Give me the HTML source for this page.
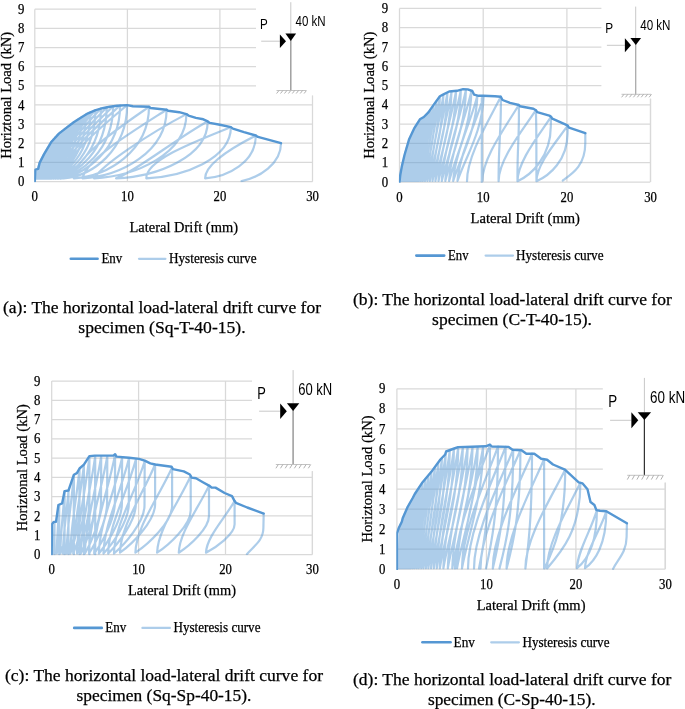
<!DOCTYPE html>
<html><head><meta charset="utf-8"><title>Horizontal load-lateral drift curves</title>
<style>
html,body{margin:0;padding:0;background:#fff;overflow:hidden;}
svg{display:block;}
text{fill:#000;stroke:#000;stroke-width:0.25px;}
.ns{stroke:none;}
</style></head><body>
<svg width="685" height="709" viewBox="0 0 685 709">
<rect width="685" height="709" fill="#fff"/>
<path d="M34.8,181.5 H312.5 M34.8,162.3 H312.5 M34.8,143.2 H312.5 M34.8,124.1 H312.5 M34.8,104.9 H312.5 M34.8,85.8 H312.5 M34.8,66.6 H312.5 M34.8,47.5 H312.5 M34.8,28.3 H312.5 M34.8,9.2 H312.5 M34.8,9.2 V181.5 M127.4,9.2 V181.5 M219.9,9.2 V181.5 M312.5,9.2 V181.5" stroke="#D9D9D9" stroke-width="1.25" fill="none"/>
<text x="21.1" y="186.1" font-family='"Liberation Serif", serif' font-size="13.7" text-anchor="middle" textLength="6.4" lengthAdjust="spacingAndGlyphs">0</text>
<text x="21.1" y="166.9" font-family='"Liberation Serif", serif' font-size="13.7" text-anchor="middle" textLength="6.4" lengthAdjust="spacingAndGlyphs">1</text>
<text x="21.1" y="147.8" font-family='"Liberation Serif", serif' font-size="13.7" text-anchor="middle" textLength="6.4" lengthAdjust="spacingAndGlyphs">2</text>
<text x="21.1" y="128.7" font-family='"Liberation Serif", serif' font-size="13.7" text-anchor="middle" textLength="6.4" lengthAdjust="spacingAndGlyphs">3</text>
<text x="21.1" y="109.5" font-family='"Liberation Serif", serif' font-size="13.7" text-anchor="middle" textLength="6.4" lengthAdjust="spacingAndGlyphs">4</text>
<text x="21.1" y="90.3" font-family='"Liberation Serif", serif' font-size="13.7" text-anchor="middle" textLength="6.4" lengthAdjust="spacingAndGlyphs">5</text>
<text x="21.1" y="71.2" font-family='"Liberation Serif", serif' font-size="13.7" text-anchor="middle" textLength="6.4" lengthAdjust="spacingAndGlyphs">6</text>
<text x="21.1" y="52.1" font-family='"Liberation Serif", serif' font-size="13.7" text-anchor="middle" textLength="6.4" lengthAdjust="spacingAndGlyphs">7</text>
<text x="21.1" y="32.9" font-family='"Liberation Serif", serif' font-size="13.7" text-anchor="middle" textLength="6.4" lengthAdjust="spacingAndGlyphs">8</text>
<text x="21.1" y="13.8" font-family='"Liberation Serif", serif' font-size="13.7" text-anchor="middle" textLength="6.4" lengthAdjust="spacingAndGlyphs">9</text>
<text x="34.8" y="201" font-family='"Liberation Serif", serif' font-size="13.7" text-anchor="middle" textLength="6.4" lengthAdjust="spacingAndGlyphs">0</text>
<text x="127.4" y="201" font-family='"Liberation Serif", serif' font-size="13.7" text-anchor="middle" textLength="12.7" lengthAdjust="spacingAndGlyphs">10</text>
<text x="219.9" y="201" font-family='"Liberation Serif", serif' font-size="13.7" text-anchor="middle" textLength="12.7" lengthAdjust="spacingAndGlyphs">20</text>
<text x="312.5" y="201" font-family='"Liberation Serif", serif' font-size="13.7" text-anchor="middle" textLength="12.7" lengthAdjust="spacingAndGlyphs">30</text>
<text transform="translate(10.7,95.3) rotate(-90)" font-family='"Liberation Serif", serif' font-size="15.1" text-anchor="middle" textLength="127" lengthAdjust="spacingAndGlyphs">Horiztonal Load (kN)</text>
<text x="129.5" y="232" font-family='"Liberation Serif", serif' font-size="15.3" text-anchor="start" textLength="108.5" lengthAdjust="spacingAndGlyphs">Lateral Drift (mm)</text>
<path d="M70.8,258.8 H97.6" stroke="#5597D3" stroke-width="2.6" stroke-linecap="round"/>
<path d="M139,258.8 H165.4" stroke="#5B9BD5" stroke-opacity="0.5" stroke-width="2.2" stroke-linecap="round"/>
<text x="101.4" y="263.2" font-family='"Liberation Serif", serif' font-size="14.3" text-anchor="start" textLength="20.9" lengthAdjust="spacingAndGlyphs">Env</text>
<text x="169" y="263.2" font-family='"Liberation Serif", serif' font-size="14.3" text-anchor="start" textLength="87.5" lengthAdjust="spacingAndGlyphs">Hysteresis curve</text>
<text x="3" y="313.1" font-family='"Liberation Serif", serif' font-size="17.3" text-anchor="start" textLength="318" lengthAdjust="spacingAndGlyphs">(a): The horizontal load-lateral drift curve for</text>
<text x="78.3" y="332.7" font-family='"Liberation Serif", serif' font-size="17.3" text-anchor="start" textLength="167.3" lengthAdjust="spacingAndGlyphs">specimen (Sq-T-40-15).</text>
<clipPath id="clipa"><rect x="34.2" y="9.2" width="278.7" height="173"/></clipPath>
<path clip-path="url(#clipa)" d="M38,168.9 C38,175 36.5,178.1 35.5,178.7  C35.6,175.8 36.9,172.1 38,168.9 M38.6,167.3 C38.6,174.4 36.8,178 35.6,178.7  C35.7,175.3 37.3,171.1 38.6,167.3 M39.2,164.7 C39.2,173.4 37.1,177.9 35.8,178.7  C35.9,174.5 37.7,169.3 39.2,164.7 M39.8,162.5 C39.8,172.5 37.5,177.7 35.9,178.7  C36,173.8 38.1,167.8 39.8,162.5 M40.6,161.1 C40.6,172 37.9,177.6 36.1,178.7  C36.2,173.4 38.5,166.9 40.6,161.1 M41.3,159.5 C41.3,171.4 38.3,177.6 36.3,178.7  C36.4,173 39,165.9 41.3,159.5 M42.1,157.9 C42.1,170.8 38.7,177.5 36.5,178.7  C36.6,172.5 39.6,164.8 42.1,157.9 M43.1,156.1 C43.1,170.1 39.2,177.3 36.7,178.7  C36.8,171.9 40.2,163.6 43.1,156.1 M44,154.2 C44,169.4 39.8,177.2 36.9,178.7  C37.1,171.3 40.8,162.3 44,154.2 M45.1,152.4 C45.1,168.7 40.3,177.1 37.2,178.7  C37.3,170.8 41.5,161.1 45.1,152.4 M46.2,150.4 C46.2,168 41,177 37.4,178.7  C37.6,170.2 42.3,159.8 46.2,150.4 M47.5,148.3 C47.5,167.2 41.6,176.9 37.7,178.7  C37.9,169.6 43.1,158.4 47.5,148.3 M48.9,146.1 C48.9,166.3 42.4,176.7 38.1,178.7  C38.3,168.9 44,156.8 48.9,146.1 M50.3,143.6 C50.3,165.4 43.2,176.6 38.4,178.7  C38.7,168.2 45,155.2 50.3,143.6 M51.9,141.2 C51.9,164.4 44.1,176.4 38.9,178.7  C39.1,167.4 46,153.6 51.9,141.2 M53.7,139.3 C53.7,163.7 45,176.3 39.3,178.7  C39.6,166.9 47.2,152.3 53.7,139.3 M55.5,137.2 C55.5,162.9 46.1,176.2 39.8,178.7  C40.1,166.3 48.4,150.9 55.5,137.2 M57.6,135 C57.6,162.1 47.2,176.1 40.3,178.7  C40.7,165.6 49.8,149.4 57.6,135 M59.8,132.9 C59.8,161.3 48.5,176 40.9,178.7  C41.3,165 51.3,148 59.8,132.9 M62.2,131 C62.2,160.6 49.8,175.8 41.6,178.7  C42,164.4 52.9,146.8 62.2,131 M64.8,129 C64.8,159.8 51.3,175.7 42.3,178.7  C42.7,163.8 54.7,145.4 64.8,129 M67.6,126.9 C67.6,159 52.9,175.6 43.1,178.7  C43.6,163.2 56.6,144 67.6,126.9 M70.7,124.6 C70.7,158.1 54.6,175.5 43.9,178.7  C44.5,162.5 58.7,142.4 70.7,124.6 M74,122.1 C74,157.2 56.6,175.3 44.9,178.7  C45.5,161.7 60.9,140.8 74,122.1 M77.6,119.8 C77.6,156.3 58.7,175.2 46,178.7  C46.6,161 63.4,139.2 77.6,119.8 M81.6,117.3 C81.6,155.4 60.9,175 47.2,178.7  C47.9,160.3 66.1,137.5 81.6,117.3 M85.8,114.7 C85.8,154.4 63.5,174.9 48.5,178.7  C49.3,159.5 69,135.8 85.8,114.7 M90.4,112.3 C90.4,153.5 66.2,174.7 50,178.7  C50.9,158.8 72.2,134.2 90.4,112.3 M95.4,110.1 C95.4,152.6 69.2,174.6 51.7,178.7  C52.6,158.1 75.8,132.8 95.4,110.1 M100.9,108.6 C100.9,152.1 72.5,174.5 53.6,178.7  C54.5,157.7 79.6,131.7 100.9,108.6 M106.7,107.4 C106.7,151.6 76.1,174.4 55.7,178.7  C56.7,157.3 83.8,130.9 106.7,107.4 M113.1,106.3 C113.1,151.2 80.1,174.4 58,178.7  C59.1,157 88.3,130.2 113.1,106.3 M120.1,105.5 C120.1,150.9 84.4,174.3 60.6,178.7  C61.8,156.7 93.3,129.7 120.1,105.5 M127.1,105.1 C127.1,150.5 92.2,176.1 63.6,178.3  C64.9,156.3 98.5,129.3 127.1,105.1 M149,106.8 C149,151.1 107.7,176.2 73.8,178.3  C75.3,156.9 115.2,130.4 149,106.8 M166.6,109.7 C166.6,152.2 120.4,176.2 82.5,178.3  C86.7,159.1 131.3,132.3 166.6,109.7 M186.4,114.1 C186.4,153.9 135.6,176.4 94,178.3  C103.2,164.2 149.5,133.4 186.4,114.1 M207.7,121.4 C207.7,156.7 157.3,176.6 116,178.3  C136.2,171.5 180.2,135.6 207.7,121.4 M230.9,127.1 C230.9,158.8 184.4,176.8 146.3,178.3  C146.3,160.4 188.6,144 230.9,127.1 M255.8,135.5 C255.8,162.1 227.9,177 205.1,178.3  C205.1,164.6 230.4,148.4 255.8,135.5 M281,143.2 C281,164.1 259.3,177.4 241.6,181.2" fill="none" stroke="#5B9BD5" stroke-opacity="0.5" stroke-width="2.2" stroke-linejoin="round" stroke-linecap="round"/>
<path clip-path="url(#clipa)" d="M34.8,181.5 L35.3,169.6 L38.2,168.9 L39.6,162.9 L44.1,154.1 L51.5,141.7 L58.9,133.6 L66.3,127.9 L73.7,122.3 L81.1,117.5 L88,113.3 L95,110.3 L102.4,108.2 L109.8,106.8 L117.2,105.7 L127.1,105.1 L132.9,106.2 L149,106.8 L150.5,108 L166.6,109.7 L168.1,110.8 L179.2,112.2 L186.4,114.1 L188.5,115.6 L195.9,117.9 L203.3,119.3 L207.7,121.4 L209.8,122.9 L219.9,124.8 L230.9,127.1 L232.9,128.6 L244,132.1 L255.8,135.5 L257.9,136.9 L281,143.2" fill="none" stroke="#5597D3" stroke-width="2.4" stroke-linejoin="round" stroke-linecap="round"/>
<rect x="256" y="0" width="434" height="95.6" fill="#fff"/>
<path d="M290.8,2.2 V33.6" stroke="#C8C8C8" stroke-width="1"/>
<path d="M290.8,39.9 V90.5" stroke="#9A9A9A" stroke-width="1.4"/>
<path d="M261.2,41.2 H279.9" stroke="#C8C8C8" stroke-width="1"/>
<path d="M285.4,33.6 h10.7 l-5.3,7.3 z" fill="#000"/>
<path d="M279.9,34.4 v13.6 l6.1,-6.8 z" fill="#000"/>
<path d="M276.5,90.5 H306" stroke="#C4C4C4" stroke-width="1"/>
<path d="M279,90.5 l-2.4,3 M282.9,90.5 l-2.4,3 M286.9,90.5 l-2.4,3 M290.8,90.5 l-2.4,3 M294.7,90.5 l-2.4,3 M298.6,90.5 l-2.4,3 M302.6,90.5 l-2.4,3 M306.5,90.5 l-2.4,3" stroke="#A8A8A8" stroke-width="0.9"/>
<text class="ns" transform="translate(260,28.9) scale(0.82,1)" font-family='"Liberation Sans", sans-serif' font-size="14.2">P</text>
<text class="ns" transform="translate(295.6,26) scale(0.8,1)" font-family='"Liberation Sans", sans-serif' font-size="14.4">40 kN</text>
<path d="M312.5,95.6 V181.5" stroke="#D9D9D9" stroke-width="1"/>
<path d="M399.5,182 H650.3 M399.5,162.7 H650.3 M399.5,143.4 H650.3 M399.5,124.1 H650.3 M399.5,104.8 H650.3 M399.5,85.6 H650.3 M399.5,66.3 H650.3 M399.5,47 H650.3 M399.5,27.7 H650.3 M399.5,8.4 H650.3 M399.5,8.4 V182 M483.2,8.4 V182 M566.9,8.4 V182 M650.6,8.4 V182" stroke="#D9D9D9" stroke-width="1.25" fill="none"/>
<text x="385" y="186.6" font-family='"Liberation Serif", serif' font-size="13.7" text-anchor="middle" textLength="6.4" lengthAdjust="spacingAndGlyphs">0</text>
<text x="385" y="167.3" font-family='"Liberation Serif", serif' font-size="13.7" text-anchor="middle" textLength="6.4" lengthAdjust="spacingAndGlyphs">1</text>
<text x="385" y="148" font-family='"Liberation Serif", serif' font-size="13.7" text-anchor="middle" textLength="6.4" lengthAdjust="spacingAndGlyphs">2</text>
<text x="385" y="128.7" font-family='"Liberation Serif", serif' font-size="13.7" text-anchor="middle" textLength="6.4" lengthAdjust="spacingAndGlyphs">3</text>
<text x="385" y="109.4" font-family='"Liberation Serif", serif' font-size="13.7" text-anchor="middle" textLength="6.4" lengthAdjust="spacingAndGlyphs">4</text>
<text x="385" y="90.2" font-family='"Liberation Serif", serif' font-size="13.7" text-anchor="middle" textLength="6.4" lengthAdjust="spacingAndGlyphs">5</text>
<text x="385" y="70.9" font-family='"Liberation Serif", serif' font-size="13.7" text-anchor="middle" textLength="6.4" lengthAdjust="spacingAndGlyphs">6</text>
<text x="385" y="51.6" font-family='"Liberation Serif", serif' font-size="13.7" text-anchor="middle" textLength="6.4" lengthAdjust="spacingAndGlyphs">7</text>
<text x="385" y="32.3" font-family='"Liberation Serif", serif' font-size="13.7" text-anchor="middle" textLength="6.4" lengthAdjust="spacingAndGlyphs">8</text>
<text x="385" y="13" font-family='"Liberation Serif", serif' font-size="13.7" text-anchor="middle" textLength="6.4" lengthAdjust="spacingAndGlyphs">9</text>
<text x="399.5" y="201.7" font-family='"Liberation Serif", serif' font-size="13.7" text-anchor="middle" textLength="6.4" lengthAdjust="spacingAndGlyphs">0</text>
<text x="483.2" y="201.7" font-family='"Liberation Serif", serif' font-size="13.7" text-anchor="middle" textLength="12.7" lengthAdjust="spacingAndGlyphs">10</text>
<text x="566.9" y="201.7" font-family='"Liberation Serif", serif' font-size="13.7" text-anchor="middle" textLength="12.7" lengthAdjust="spacingAndGlyphs">20</text>
<text x="650.6" y="201.7" font-family='"Liberation Serif", serif' font-size="13.7" text-anchor="middle" textLength="12.7" lengthAdjust="spacingAndGlyphs">30</text>
<text transform="translate(373.7,95.2) rotate(-90)" font-family='"Liberation Serif", serif' font-size="15.1" text-anchor="middle" textLength="127" lengthAdjust="spacingAndGlyphs">Horiztonal Load (kN)</text>
<text x="470.6" y="223.4" font-family='"Liberation Serif", serif' font-size="15.3" text-anchor="start" textLength="109.4" lengthAdjust="spacingAndGlyphs">Lateral Drift (mm)</text>
<path d="M416.3,255.6 H444.2" stroke="#5597D3" stroke-width="2.6" stroke-linecap="round"/>
<path d="M485.6,255.6 H513" stroke="#5B9BD5" stroke-opacity="0.5" stroke-width="2.2" stroke-linecap="round"/>
<text x="448.1" y="260.2" font-family='"Liberation Serif", serif' font-size="14.3" text-anchor="start" textLength="20.5" lengthAdjust="spacingAndGlyphs">Env</text>
<text x="516" y="260.2" font-family='"Liberation Serif", serif' font-size="14.3" text-anchor="start" textLength="87.5" lengthAdjust="spacingAndGlyphs">Hysteresis curve</text>
<text x="353" y="305" font-family='"Liberation Serif", serif' font-size="17.3" text-anchor="start" textLength="318.8" lengthAdjust="spacingAndGlyphs">(b): The horizontal load-lateral drift curve for</text>
<text x="432.1" y="324.9" font-family='"Liberation Serif", serif' font-size="17.3" text-anchor="start" textLength="159.8" lengthAdjust="spacingAndGlyphs">specimen (C-T-40-15).</text>
<clipPath id="clipb"><rect x="398.9" y="8.4" width="251.8" height="174.3"/></clipPath>
<path clip-path="url(#clipb)" d="M402,166.2 C402,172.4 401.5,176.9 401.2,181  C401.3,176.1 401.8,171.1 402,166.2 M403.1,161.5 C403.1,169.7 402.3,175.5 402,181  C402.1,174.6 402.8,167.9 403.1,161.5 M404.3,156.5 C404.2,166.8 403.3,174.1 402.8,181  C402.9,172.9 403.9,164.6 404.3,156.5 M405.5,152.2 C405.4,164.3 404.2,172.9 403.7,181  C403.8,171.5 405,161.7 405.5,152.2 M406.8,147.8 C406.7,161.8 405.2,171.7 404.5,181  C404.7,170.1 406.1,158.8 406.8,147.8 M408.1,143.3 C408,159.1 406.3,170.4 405.5,181  C405.7,168.6 407.3,155.7 408.1,143.3 M409.5,139.1 C409.4,156.7 407.3,169.3 406.4,181  C406.7,167.2 408.6,152.9 409.5,139.1 M411,136 C410.8,154.9 408.5,168.4 407.4,181  C407.7,166.1 409.9,150.8 411,136 M412.5,132.7 C412.3,153 409.7,167.5 408.5,181  C408.8,165.1 411.3,148.6 412.5,132.7 M414.1,129.2 C413.9,151 410.9,166.5 409.6,181  C409.9,163.9 412.7,146.3 414.1,129.2 M415.7,126.4 C415.5,149.3 412.2,165.7 410.7,181  C411.1,163 414.2,144.4 415.7,126.4 M417.5,123.7 C417.3,147.8 413.6,165 411.9,181  C412.4,162.1 415.8,142.6 417.5,123.7 M419.3,120.9 C419,146.1 415,164.2 413.2,181  C413.6,161.2 417.4,140.7 419.3,120.9 M421.2,119.1 C420.9,145.1 416.5,163.7 414.5,181  C415,160.6 419.2,139.5 421.2,119.1 M423.2,117.9 C422.9,144.4 418,163.3 415.8,181  C416.4,160.2 421,138.7 423.2,117.9 M425.2,116.1 C424.9,143.4 419.7,162.8 417.3,181  C417.9,159.6 422.8,137.5 425.2,116.1 M427.4,113.9 C427.1,142.1 421.3,162.2 418.7,181  C419.4,158.9 424.8,136.1 427.4,113.9 M430.2,110.4 C429.8,140 423.5,161.2 420.7,181  C421.4,157.7 427.3,133.7 430.2,110.4 M433.2,106.1 C432.8,137.6 425.9,160 422.7,181  C423.6,156.3 430,130.8 433.2,106.1 M436.4,101.7 C435.9,135 428.4,158.8 424.9,181  C425.9,154.8 432.9,127.9 436.4,101.7 M439.8,96.9 C439.3,132.2 431,157.5 427.3,181  C428.3,153.3 436,124.7 439.8,96.9 M443.4,95 C442.9,131.1 433.9,156.9 429.8,181  C430.9,152.6 439.4,123.4 443.4,95 M447.4,93 C446.8,130 437,156.4 432.5,181  C433.7,152 442.9,122.1 447.4,93 M451.5,91.9 C450.9,129.3 440.2,156 435.4,181  C436.7,151.6 446.7,121.3 451.5,91.9 M456,91.4 C455.3,129 443.8,155.9 438.5,181  C439.9,151.4 450.8,121 456,91.4 M460.8,90.4 C460.1,128.4 447.5,155.6 441.8,181  C443.3,151.1 455.1,120.3 460.8,90.4 M465.9,89.9 C465.1,128.2 451.5,155.5 445.3,181  C447,150.9 459.8,120 465.9,89.9 M471.4,91.2 C470.5,128.9 455.8,155.9 449.1,181  C450.9,151.4 464.7,120.9 471.4,91.2 M477.3,96 C476.3,131.7 460.4,157.2 453.2,181  C455.1,153 470.1,124.1 477.3,96 M483.6,96.4 C482.5,131.9 465.3,157.3 457.5,181  C459.6,153.1 475.8,124.3 483.6,96.4 M481.8,98.1 V182 M500.8,96.7 C501.6,124.7 498.3,146.2 498.6,181.2 M518.8,105 C519.6,133 517.2,146.2 517.5,181.2 M535.9,110.2 C536.7,138.2 536.2,146.2 536.5,181.2 M467,181.2 C467,155.9 487.9,122.1 500.8,96.7 M482.3,181.2 C482.3,158.3 504.9,127.9 518.8,105 M498.6,181.2 C498.6,159.9 521.7,131.5 535.9,110.2 M517.5,181.2 C517.5,161.9 538.3,136.1 551,116.8 M536.5,181.2 C536.5,164.5 555.9,142.3 567.7,125.7 M551,116.8 L550.8,126.5 C550.7,156.6 531.6,174.8 517.5,181.2 M567.7,125.7 L567.5,134 C567.4,160 549.6,175.6 536.5,181.2 M585.3,133.2 L585.3,142.7 C585.3,165.4 572.9,173.4 562.8,180.5" fill="none" stroke="#5B9BD5" stroke-opacity="0.5" stroke-width="2.2" stroke-linejoin="round" stroke-linecap="round"/>
<path clip-path="url(#clipb)" d="M399.5,182 L400.3,174.7 L402,165.6 L404.5,155 L409,139.6 L414.5,127.8 L419.9,119.3 L423.8,117 L428.4,112.4 L433.8,104.6 L439.9,96.2 L443,94.6 L449.2,91.5 L456.9,90.8 L463.1,89.2 L467.7,89.4 L472.3,91 L474,94.6 L478.6,95.8 L483.2,95.8 L494.9,96.2 L500.8,96.7 L502.5,100 L510,102.9 L518.8,105 L520,106.2 L533.4,108.7 L535.9,110.2 L537.2,112.2 L549.3,115.6 L551,116.8 L552.3,118.7 L566.9,125.1 L567.7,125.7 L569,127.6 L585.3,133.2" fill="none" stroke="#5597D3" stroke-width="2.4" stroke-linejoin="round" stroke-linecap="round"/>
<rect x="601.4" y="0" width="88.6" height="98.7" fill="#fff"/>
<path d="M635.7,6.6 V38" stroke="#C8C8C8" stroke-width="1"/>
<path d="M635.7,44 V94.3" stroke="#ABABAB" stroke-width="1.3"/>
<path d="M606.9,45.3 H624.9" stroke="#C8C8C8" stroke-width="1"/>
<path d="M630.4,38 h10.7 l-5.3,7 z" fill="#000"/>
<path d="M624.9,38.3 v13.9 l6.1,-7 z" fill="#000"/>
<path d="M621.5,94.3 H651" stroke="#C4C4C4" stroke-width="1"/>
<path d="M624,94.3 l-2.4,3 M627.9,94.3 l-2.4,3 M631.9,94.3 l-2.4,3 M635.8,94.3 l-2.4,3 M639.7,94.3 l-2.4,3 M643.6,94.3 l-2.4,3 M647.6,94.3 l-2.4,3 M651.5,94.3 l-2.4,3" stroke="#A8A8A8" stroke-width="0.9"/>
<text class="ns" transform="translate(605.3,33.3) scale(0.82,1)" font-family='"Liberation Sans", sans-serif' font-size="14.4">P</text>
<text class="ns" transform="translate(640.2,29.9) scale(0.8,1)" font-family='"Liberation Sans", sans-serif' font-size="14.5">40 kN</text>
<path d="M650.3,98.7 V182" stroke="#D9D9D9" stroke-width="1"/>
<path d="M51.7,554.5 H312.3 M51.7,535.2 H312.3 M51.7,515.9 H312.3 M51.7,496.7 H312.3 M51.7,477.4 H312.3 M51.7,458.1 H312.3 M51.7,438.8 H312.3 M51.7,419.5 H312.3 M51.7,400.3 H312.3 M51.7,381 H312.3 M51.7,381 V554.5 M138.6,381 V554.5 M225.5,381 V554.5 M312.4,381 V554.5" stroke="#D9D9D9" stroke-width="1.25" fill="none"/>
<text x="37.2" y="559.1" font-family='"Liberation Serif", serif' font-size="13.7" text-anchor="middle" textLength="6.4" lengthAdjust="spacingAndGlyphs">0</text>
<text x="37.2" y="539.8" font-family='"Liberation Serif", serif' font-size="13.7" text-anchor="middle" textLength="6.4" lengthAdjust="spacingAndGlyphs">1</text>
<text x="37.2" y="520.5" font-family='"Liberation Serif", serif' font-size="13.7" text-anchor="middle" textLength="6.4" lengthAdjust="spacingAndGlyphs">2</text>
<text x="37.2" y="501.3" font-family='"Liberation Serif", serif' font-size="13.7" text-anchor="middle" textLength="6.4" lengthAdjust="spacingAndGlyphs">3</text>
<text x="37.2" y="482" font-family='"Liberation Serif", serif' font-size="13.7" text-anchor="middle" textLength="6.4" lengthAdjust="spacingAndGlyphs">4</text>
<text x="37.2" y="462.7" font-family='"Liberation Serif", serif' font-size="13.7" text-anchor="middle" textLength="6.4" lengthAdjust="spacingAndGlyphs">5</text>
<text x="37.2" y="443.4" font-family='"Liberation Serif", serif' font-size="13.7" text-anchor="middle" textLength="6.4" lengthAdjust="spacingAndGlyphs">6</text>
<text x="37.2" y="424.1" font-family='"Liberation Serif", serif' font-size="13.7" text-anchor="middle" textLength="6.4" lengthAdjust="spacingAndGlyphs">7</text>
<text x="37.2" y="404.9" font-family='"Liberation Serif", serif' font-size="13.7" text-anchor="middle" textLength="6.4" lengthAdjust="spacingAndGlyphs">8</text>
<text x="37.2" y="385.6" font-family='"Liberation Serif", serif' font-size="13.7" text-anchor="middle" textLength="6.4" lengthAdjust="spacingAndGlyphs">9</text>
<text x="51.7" y="574.2" font-family='"Liberation Serif", serif' font-size="13.7" text-anchor="middle" textLength="6.4" lengthAdjust="spacingAndGlyphs">0</text>
<text x="138.6" y="574.2" font-family='"Liberation Serif", serif' font-size="13.7" text-anchor="middle" textLength="12.7" lengthAdjust="spacingAndGlyphs">10</text>
<text x="225.5" y="574.2" font-family='"Liberation Serif", serif' font-size="13.7" text-anchor="middle" textLength="12.7" lengthAdjust="spacingAndGlyphs">20</text>
<text x="312.4" y="574.2" font-family='"Liberation Serif", serif' font-size="13.7" text-anchor="middle" textLength="12.7" lengthAdjust="spacingAndGlyphs">30</text>
<text transform="translate(26.6,467.7) rotate(-90)" font-family='"Liberation Serif", serif' font-size="15.1" text-anchor="middle" textLength="127" lengthAdjust="spacingAndGlyphs">Horiztonal Load (kN)</text>
<text x="128" y="595.3" font-family='"Liberation Serif", serif' font-size="15.3" text-anchor="start" textLength="108" lengthAdjust="spacingAndGlyphs">Lateral Drift (mm)</text>
<path d="M74.2,627.9 H101.8" stroke="#5597D3" stroke-width="2.6" stroke-linecap="round"/>
<path d="M142.4,627.9 H169.9" stroke="#5B9BD5" stroke-opacity="0.5" stroke-width="2.2" stroke-linecap="round"/>
<text x="105.2" y="632" font-family='"Liberation Serif", serif' font-size="14.3" text-anchor="start" textLength="21" lengthAdjust="spacingAndGlyphs">Env</text>
<text x="173.5" y="632" font-family='"Liberation Serif", serif' font-size="14.3" text-anchor="start" textLength="87" lengthAdjust="spacingAndGlyphs">Hysteresis curve</text>
<text x="5" y="680.9" font-family='"Liberation Serif", serif' font-size="17.3" text-anchor="start" textLength="318" lengthAdjust="spacingAndGlyphs">(c): The horizontal load-lateral drift curve for</text>
<text x="76.6" y="701" font-family='"Liberation Serif", serif' font-size="17.3" text-anchor="start" textLength="174.8" lengthAdjust="spacingAndGlyphs">specimen (Sq-Sp-40-15).</text>
<clipPath id="clipc"><rect x="51.1" y="381" width="261.6" height="174.2"/></clipPath>
<path clip-path="url(#clipc)" d="M54.5,522.5 L54.3,547.3 C54.2,549.5 53.9,550.4 53.6,553.5  C53.6,544.2 54.2,534.3 54.5,522.5 M54.5,522.5 V554.5 M59.2,505.2 L59,543.8 C58.9,547.2 57.6,548.7 56.7,553.5  C56.8,539 58.3,523.6 59.2,505.2 M59.2,505.2 V554.5 M64.6,491.6 L64.4,541.1 C64.3,545.5 61.8,547.3 60.3,553.5  C60.4,534.9 63.1,515.2 64.6,491.6 M64.6,491.6 V554.5 M68.5,491.1 L68.3,541 C68.2,545.4 64.9,547.3 62.9,553.5  C63,534.8 66.5,514.8 68.5,491.1 M68.5,491.1 V554.5 M73.9,475.3 L73.7,537.9 C73.6,543.3 69.1,545.7 66.5,553.5  C66.7,530 71.3,505 73.9,475.3 M73.9,475.3 V554.5 M79.5,469.1 L79.3,509.6 C79.2,525 73.5,545.1 70.3,553.5  C70.5,528.2 76.3,501.2 79.5,469.1 M79.5,469.1 V554.5 M83.9,465.2 L83.7,507.6 C83.6,523.7 77,544.7 73.2,553.5  C73.5,527 80.1,498.8 83.9,465.2 M83.9,465.2 V554.5 M89.4,456.8 L89.2,503.2 C89.1,520.8 81.3,543.8 77,553.5  C77.2,524.5 85.1,493.5 89.4,456.8 M89.4,456.8 V554.5 M95.2,456.2 L95,502.9 C94.9,520.6 85.8,543.8 80.8,553.5  C81.1,524.3 90.1,493.2 95.2,456.2 M95.2,456.2 V554.5 M101.2,456.2 L101,502.9 C100.9,520.6 90.6,543.8 84.9,553.5  C85.2,524.3 95.5,493.2 101.2,456.2 M107.3,456.2 L107.1,502.9 C107,520.6 95.4,543.8 89,553.5  C89.3,524.3 100.9,493.2 107.3,456.2 M115.1,454.8 L114.9,502.2 C114.8,520.1 101.5,543.6 94.2,553.5  C94.6,523.9 107.8,492.3 115.1,454.8 M122.1,457.7 L121.9,503.7 C121.8,521.1 107,543.9 98.9,553.5  C99.3,524.7 114,494.1 122.1,457.7 M129,458.3 L128.8,504 C128.7,521.3 112.5,544 103.5,553.5  C104,524.9 120.1,494.5 129,458.3 M136,459.1 L135.8,504.4 C135.7,521.6 117.9,544.1 108.2,553.5  C108.7,525.2 126.3,495 136,459.1 M144.7,461.2 L144.5,505.5 C144.4,522.3 124.7,544.3 114,553.5  C114.6,525.8 133.9,496.3 144.7,461.2 M155.1,464.5 L155.1,504.2 C155.1,521.2 132.3,543.9 120,552.7  C120.7,526.2 141.8,496.2 155.1,464.5 M172.1,467.5 L172.1,505.9 C172.1,522.3 148.2,544.2 135.4,552.7  C136.1,527.2 158.1,498.2 172.1,467.5 M190.7,476 L190.7,510.5 C190.7,525.3 168.9,545 157.1,552.7  C157.8,529.7 178,503.6 190.7,476 M209,485.6 L209,515.8 C209,528.7 189.4,546 178.8,552.7  C179.4,532.6 197.5,509.7 209,485.6 M234.6,501.1 L234.6,524.3 C234.6,534.3 216,547.5 206,552.7  C206.6,537.2 223.7,519.7 234.6,501.1 M263.7,513.6 L263.4,527.8 C263.3,541 253.6,546.1 246.9,554.2" fill="none" stroke="#5B9BD5" stroke-opacity="0.5" stroke-width="2.2" stroke-linejoin="round" stroke-linecap="round"/>
<path clip-path="url(#clipc)" d="M51.7,554.5 L52,524.2 L53.7,521.9 L56,521.9 L58.4,505 L62.1,503.4 L64.6,491.1 L68.5,490.5 L73.9,474.7 L76.9,473.1 L79.5,468.5 L83.9,464.7 L89.4,456.2 L94.8,455.6 L113.4,455.6 L115.1,454.2 L116.5,456.6 L129,457.7 L139,458.9 L144.7,460.6 L150.3,463.3 L155.1,464.5 L171.6,466.8 L172.9,469.1 L183.8,471.4 L189.9,474.5 L191.6,477.6 L196,478.3 L202.9,482.2 L209.9,486.1 L211.6,487.6 L215.5,487.6 L224.6,493 L232,496.1 L234.6,501.1 L235.9,502.8 L247.2,507.5 L263.7,513.6" fill="none" stroke="#5597D3" stroke-width="2.4" stroke-linejoin="round" stroke-linecap="round"/>
<rect x="252" y="366" width="438" height="105.2" fill="#fff"/>
<path d="M293.1,370.1 V403.3" stroke="#C8C8C8" stroke-width="1"/>
<path d="M293.1,409.9 V464.5" stroke="#9A9A9A" stroke-width="1.5"/>
<path d="M259.1,411.2 H280.2" stroke="#C8C8C8" stroke-width="1"/>
<path d="M286.9,403.3 h12.4 l-6.2,7.6 z" fill="#000"/>
<path d="M280.2,403.6 v15.3 l6.6,-7.7 z" fill="#000"/>
<path d="M275.8,464.5 H310.2" stroke="#C4C4C4" stroke-width="1"/>
<path d="M278.3,464.5 l-2.4,3.8 M282.9,464.5 l-2.4,3.8 M287.6,464.5 l-2.4,3.8 M292.2,464.5 l-2.4,3.8 M296.8,464.5 l-2.4,3.8 M301.4,464.5 l-2.4,3.8 M306.1,464.5 l-2.4,3.8 M310.7,464.5 l-2.4,3.8" stroke="#A8A8A8" stroke-width="0.9"/>
<text class="ns" transform="translate(257.2,398.5) scale(0.82,1)" font-family='"Liberation Sans", sans-serif' font-size="15.7">P</text>
<text class="ns" transform="translate(298.2,394.8) scale(0.82,1)" font-family='"Liberation Sans", sans-serif' font-size="15.9">60 kN</text>
<path d="M312.3,471.2 V554.5" stroke="#D9D9D9" stroke-width="1"/>
<path d="M396.9,569.2 H665 M396.9,549.2 H665 M396.9,529.1 H665 M396.9,509.1 H665 M396.9,489 H665 M396.9,469 H665 M396.9,448.9 H665 M396.9,428.9 H665 M396.9,408.8 H665 M396.9,388.8 H665 M396.9,388.8 V569.2 M486.4,388.8 V569.2 M575.9,388.8 V569.2 M665.4,388.8 V569.2" stroke="#D9D9D9" stroke-width="1.25" fill="none"/>
<text x="382.2" y="573.8" font-family='"Liberation Serif", serif' font-size="13.7" text-anchor="middle" textLength="6.4" lengthAdjust="spacingAndGlyphs">0</text>
<text x="382.2" y="553.8" font-family='"Liberation Serif", serif' font-size="13.7" text-anchor="middle" textLength="6.4" lengthAdjust="spacingAndGlyphs">1</text>
<text x="382.2" y="533.7" font-family='"Liberation Serif", serif' font-size="13.7" text-anchor="middle" textLength="6.4" lengthAdjust="spacingAndGlyphs">2</text>
<text x="382.2" y="513.7" font-family='"Liberation Serif", serif' font-size="13.7" text-anchor="middle" textLength="6.4" lengthAdjust="spacingAndGlyphs">3</text>
<text x="382.2" y="493.6" font-family='"Liberation Serif", serif' font-size="13.7" text-anchor="middle" textLength="6.4" lengthAdjust="spacingAndGlyphs">4</text>
<text x="382.2" y="473.6" font-family='"Liberation Serif", serif' font-size="13.7" text-anchor="middle" textLength="6.4" lengthAdjust="spacingAndGlyphs">5</text>
<text x="382.2" y="453.5" font-family='"Liberation Serif", serif' font-size="13.7" text-anchor="middle" textLength="6.4" lengthAdjust="spacingAndGlyphs">6</text>
<text x="382.2" y="433.5" font-family='"Liberation Serif", serif' font-size="13.7" text-anchor="middle" textLength="6.4" lengthAdjust="spacingAndGlyphs">7</text>
<text x="382.2" y="413.4" font-family='"Liberation Serif", serif' font-size="13.7" text-anchor="middle" textLength="6.4" lengthAdjust="spacingAndGlyphs">8</text>
<text x="382.2" y="393.4" font-family='"Liberation Serif", serif' font-size="13.7" text-anchor="middle" textLength="6.4" lengthAdjust="spacingAndGlyphs">9</text>
<text x="396.9" y="589" font-family='"Liberation Serif", serif' font-size="13.7" text-anchor="middle" textLength="6.4" lengthAdjust="spacingAndGlyphs">0</text>
<text x="486.4" y="589" font-family='"Liberation Serif", serif' font-size="13.7" text-anchor="middle" textLength="12.7" lengthAdjust="spacingAndGlyphs">10</text>
<text x="575.9" y="589" font-family='"Liberation Serif", serif' font-size="13.7" text-anchor="middle" textLength="12.7" lengthAdjust="spacingAndGlyphs">20</text>
<text x="665.4" y="589" font-family='"Liberation Serif", serif' font-size="13.7" text-anchor="middle" textLength="12.7" lengthAdjust="spacingAndGlyphs">30</text>
<text transform="translate(372.2,479) rotate(-90)" font-family='"Liberation Serif", serif' font-size="15.1" text-anchor="middle" textLength="127" lengthAdjust="spacingAndGlyphs">Horiztonal Load (kN)</text>
<text x="476.7" y="610.1" font-family='"Liberation Serif", serif' font-size="15.3" text-anchor="start" textLength="108.8" lengthAdjust="spacingAndGlyphs">Lateral Drift (mm)</text>
<path d="M422.4,642.3 H450.6" stroke="#5597D3" stroke-width="2.6" stroke-linecap="round"/>
<path d="M491.2,642.3 H518.9" stroke="#5B9BD5" stroke-opacity="0.5" stroke-width="2.2" stroke-linecap="round"/>
<text x="453.6" y="646.6" font-family='"Liberation Serif", serif' font-size="14.3" text-anchor="start" textLength="21.4" lengthAdjust="spacingAndGlyphs">Env</text>
<text x="522.5" y="646.6" font-family='"Liberation Serif", serif' font-size="14.3" text-anchor="start" textLength="87" lengthAdjust="spacingAndGlyphs">Hysteresis curve</text>
<text x="353" y="685.2" font-family='"Liberation Serif", serif' font-size="17.3" text-anchor="start" textLength="318.3" lengthAdjust="spacingAndGlyphs">(d): The horizontal load-lateral drift curve for</text>
<text x="427.9" y="705.2" font-family='"Liberation Serif", serif' font-size="17.3" text-anchor="start" textLength="167.7" lengthAdjust="spacingAndGlyphs">specimen (C-Sp-40-15).</text>
<clipPath id="clipd"><rect x="396.3" y="388.8" width="269.1" height="181.2"/></clipPath>
<path clip-path="url(#clipd)" d="M399.6,526.8 C399.6,544.2 399,556.6 398.8,568.2  C398.8,554.6 399.3,540.5 399.6,526.8 M400.8,524.4 C400.8,542.8 400,555.9 399.6,568.2  C399.7,553.7 400.4,538.8 400.8,524.4 M402.1,521.4 C402,541 401,555.1 400.5,568.2  C400.6,552.7 401.6,536.8 402.1,521.4 M403.4,517.2 C403.4,538.6 402,553.9 401.4,568.2  C401.6,551.4 402.8,534 403.4,517.2 M404.8,514 C404.7,536.8 403.1,553 402.4,568.2  C402.6,550.3 404.1,531.9 404.8,514 M406.3,510.7 C406.2,534.9 404.3,552.1 403.5,568.2  C403.6,549.2 405.4,529.7 406.3,510.7 M407.8,507.4 C407.7,532.9 405.5,551.2 404.5,568.2  C404.7,548.1 406.8,527.4 407.8,507.4 M409.4,504.5 C409.3,531.3 406.8,550.4 405.7,568.2  C405.9,547.2 408.3,525.5 409.4,504.5 M411.1,501.5 C411,529.5 408.1,549.5 406.9,568.2  C407.1,546.2 409.8,523.5 411.1,501.5 M412.9,498.3 C412.8,527.7 409.5,548.6 408.1,568.2  C408.4,545.1 411.5,521.4 412.9,498.3 M414.8,494.6 C414.7,525.5 411,547.6 409.4,568.2  C409.7,543.9 413.2,518.9 414.8,494.6 M416.8,491.7 C416.6,523.8 412.6,546.8 410.8,568.2  C411.2,542.9 415,516.9 416.8,491.7 M419.4,487.6 C419.3,521.4 414.7,545.6 412.7,568.2  C413.1,541.6 417.4,514.2 419.4,487.6 M422.2,483.3 C422.1,519 416.9,544.4 414.6,568.2  C415.1,540.2 420,511.3 422.2,483.3 M425.2,479.7 C425,516.9 419.2,543.4 416.7,568.2  C417.2,539 422.6,508.9 425.2,479.7 M428.2,476 C428,514.7 421.7,542.4 418.8,568.2  C419.4,537.8 425.4,506.4 428.2,476 M431.4,472.2 C431.2,512.5 424.2,541.3 421.1,568.2  C421.7,536.5 428.3,503.9 431.4,472.2 M434.8,467.8 C434.5,510 426.8,540.1 423.4,568.2  C424.1,535.1 431.4,500.9 434.8,467.8 M438.3,463 C438,507.2 429.6,538.8 425.9,568.2  C426.6,533.5 434.5,497.7 438.3,463 M441.9,458.5 C441.6,504.6 432.5,537.5 428.4,568.2  C429.2,532 437.9,494.7 441.9,458.5 M445.7,453.4 C445.4,501.6 435.5,536.1 431.1,568.2  C432,530.3 441.3,491.3 445.7,453.4 M449.7,450.8 C449.4,500.1 438.6,535.3 433.9,568.2  C434.8,529.4 445,489.5 449.7,450.8 M453.9,449.2 C453.5,499.2 441.9,534.9 436.8,568.2  C437.8,528.9 448.8,488.5 453.9,449.2 M458.2,447.7 C457.9,498.3 445.4,534.5 439.8,568.2  C440.9,528.4 452.7,487.5 458.2,447.7 M462.8,447.6 C462.4,498.2 449.2,534.4 443.4,568.2  C444.6,528.4 457,487.4 462.8,447.6 M467.6,447.4 C467.2,498.2 453.7,534.4 447.8,568.2  C449,528.3 461.6,487.3 467.6,447.4 M472.5,447.3 C472.1,498.1 458.4,534.3 452.3,568.2  C453.5,528.3 466.5,487.2 472.5,447.3 M477.7,447.1 C477.3,498 463.2,534.3 457,568.2  C458.3,528.2 471.5,487.1 477.7,447.1 M483.1,447 C482.7,497.9 468.3,534.3 462,568.2  C463.2,528.2 476.8,487 483.1,447 M490,444.8 C490,512.8 483.9,543.7 479,568.4 M505.6,446.8 C505.6,513.7 498.6,544.1 492.8,568.4 M520.4,450.2 C520.4,515.2 512.8,544.8 506.6,568.4 M532,453.7 C532,516.8 528.4,545.5 525.4,568.4 M544.1,459.2 L544.1,568.4 M565.2,469.8 C565.2,524 553.9,548.7 544.6,568.4 M580.4,482.8 C580.4,529.9 562.1,551.3 547.1,568.4 M455,568.4 C455,531.3 476.7,481.9 490,444.8 M468,568.4 C468,531.9 491.3,483.3 505.6,446.8 M480.5,568.4 C480.5,532.9 505.2,485.7 520.4,450.2 M492.8,568.4 C492.8,534 517.1,488.1 532,453.7 M506.6,568.4 C506.6,535.6 529.9,492 544.1,459.2 M525.4,568.4 C525.4,538.8 550.1,499.4 565.2,469.8 M547.1,568.4 C547.1,542.7 567.7,508.5 580.4,482.8 M462,568.4 C462,531.9 484.3,483.2 498,446.6 M474,568.4 C474,532.8 498.3,485.3 513.2,449.8 M498,446.6 C498,513.6 491.4,544 486,568.4 M513.2,449.8 C513.2,515 505.7,544.7 499.5,568.4 M606.3,511.3 C606.3,545.4 594.6,561.4 585,568.2  C585.6,551.1 599.9,531.2 606.3,511.3 M596.9,510.1 C596.9,545 586,561.2 577,568.2  C577.6,550.8 591,530.5 596.9,510.1 M626.9,523.3 L626.6,537 C626.5,552.9 617.2,559.8 613.1,568.9" fill="none" stroke="#5B9BD5" stroke-opacity="0.5" stroke-width="2.2" stroke-linejoin="round" stroke-linecap="round"/>
<path clip-path="url(#clipd)" d="M396.9,569.2 L396.9,533.5 L398.9,527.7 L401.8,521.7 L402.8,517.9 L407.6,507 L412.7,498 L414.8,494 L422.6,482.2 L432.4,470.4 L440.4,459.5 L445.2,454.5 L446.1,451.5 L454.2,448.5 L458.1,447.1 L472.1,446.7 L485.8,446.3 L489.9,444.7 L491.8,446.5 L508.6,446.9 L512.5,449.7 L521.5,450.3 L526.4,453.7 L534.3,453.7 L541.2,458.7 L547.1,459.7 L553,464.5 L564.9,469.6 L578.7,482.4 L582.6,483.4 L587.5,489.2 L590.5,502 L594.4,505 L596.4,510.1 L600,510.7 L606.3,511.3 L626.9,523.3" fill="none" stroke="#5597D3" stroke-width="2.4" stroke-linejoin="round" stroke-linecap="round"/>
<rect x="602.8" y="376" width="87.2" height="106.6" fill="#fff"/>
<path d="M644.4,377.9 V412.2" stroke="#C8C8C8" stroke-width="1"/>
<path d="M644.4,419 V475.3" stroke="#333333" stroke-width="1.25"/>
<path d="M610.1,420.3 H631.4" stroke="#C8C8C8" stroke-width="1"/>
<path d="M637.7,412.2 h13.4 l-6.7,7.8 z" fill="#000"/>
<path d="M631.4,412.3 v16 l6.9,-8 z" fill="#000"/>
<path d="M627.2,475.3 H662.8" stroke="#C4C4C4" stroke-width="1"/>
<path d="M629.7,475.3 l-2.4,4.3 M634.5,475.3 l-2.4,4.3 M639.3,475.3 l-2.4,4.3 M644.1,475.3 l-2.4,4.3 M648.9,475.3 l-2.4,4.3 M653.7,475.3 l-2.4,4.3 M658.5,475.3 l-2.4,4.3 M663.3,475.3 l-2.4,4.3" stroke="#A8A8A8" stroke-width="0.9"/>
<text class="ns" transform="translate(608.2,407.1) scale(0.82,1)" font-family='"Liberation Sans", sans-serif' font-size="16.3">P</text>
<text class="ns" transform="translate(650.1,403.2) scale(0.84,1)" font-family='"Liberation Sans", sans-serif' font-size="16.0">60 kN</text>
<path d="M665,482.6 V569.2" stroke="#D9D9D9" stroke-width="1"/>
</svg>
</body></html>
